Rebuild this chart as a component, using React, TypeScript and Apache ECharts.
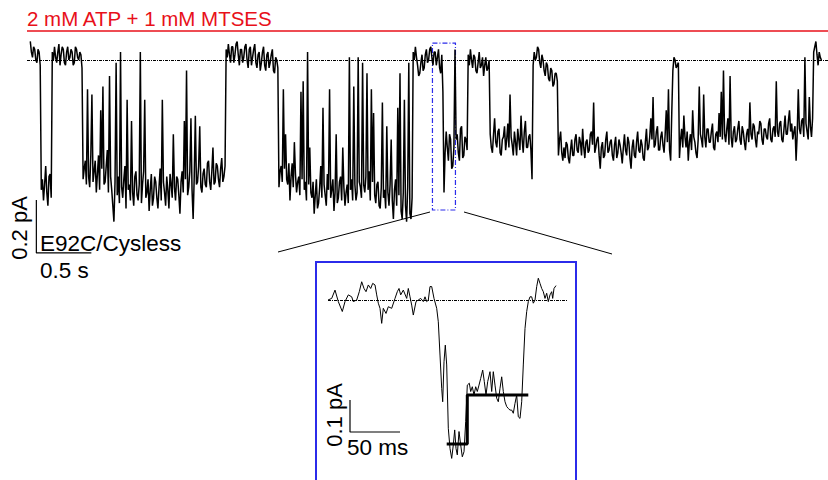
import React, { useEffect, useRef } from "react";
import * as echarts from "echarts";

const TITLE = "2 mM ATP + 1 mM MTSES";
const CONSTRUCT = "E92C/Cysless";
const MAIN_BAR_V = "0.2 pA";
const MAIN_BAR_T = "0.5 s";
const INSET_BAR_V = "0.1 pA";
const INSET_BAR_T = "50 ms";

// main recording, sampled every 0.01 s, current in pA relative to open level
const SAMPLE_S = 0.01;
const mainCurrent = [
  // open, first brief closure
  0.07, 0.03, 0.01, 0.05, 0.04, 0.00, -0.01, 0.04, 0.03, -0.02,
  -0.49, -0.45, -0.53, -0.47, -0.40, -0.50, -0.55, -0.44, -0.43, -0.52,
  // open
  0.03, 0.00, 0.05, 0.01, -0.01, 0.03, 0.06, -0.02, 0.02, 0.05, 0.04, -0.01, -0.02, 0.03,
  0.05, 0.00, 0.01, 0.04, 0.03, -0.02, -0.01, 0.05, 0.04, 0.01, 0.00, 0.03, 0.02, -0.03,
  // closed burst 1
  -0.45, -0.41, -0.38, -0.47, -0.11, -0.44, -0.48, -0.36, -0.13, -0.46, -0.42, -0.38, -0.50, -0.43, -0.36, -0.49, -0.19, -0.41, -0.10, -0.47,
  -0.46, -0.40, -0.34, -0.50, -0.06, -0.44, -0.49, -0.55, -0.61, -0.46, -0.01, -0.51, -0.44, -0.54, 0.03, -0.48, -0.52, -0.45, -0.40, -0.56,
  -0.15, -0.49, -0.47, -0.53, -0.23, -0.50, -0.55, -0.44, -0.42, -0.51, -0.53, -0.47, 0.03, -0.54, -0.47, -0.42, -0.15, -0.52, -0.50, -0.45,
  -0.57, -0.49, -0.43, -0.55, -0.52, -0.44, -0.46, -0.52, -0.56, -0.48, -0.41, -0.53, -0.15, -0.46, -0.50, -0.55, -0.44, -0.49, -0.56, -0.43,
  -0.47, -0.52, -0.28, -0.48, -0.53, -0.44, -0.45, -0.51, -0.58, -0.46, -0.42, -0.50, -0.23, -0.45, -0.04, -0.51, -0.48, -0.42, -0.22, -0.49,
  -0.60, -0.44, -0.21, -0.47, -0.46, -0.40, -0.25, -0.48, -0.50, -0.43, -0.41, -0.47, -0.48, -0.39, -0.38, -0.46, -0.49, -0.42, -0.33, -0.47,
  -0.46, -0.39, -0.40, -0.45, -0.48, -0.41, -0.37, -0.46, -0.44, -0.40,
  // open
  0.04, 0.01, 0.06, 0.02, -0.01, 0.05, 0.05, -0.01, 0.02, 0.06, 0.07, 0.02, -0.02, 0.04, 0.04, -0.01,
  0.01, 0.05, 0.06, 0.00, -0.03, 0.04, 0.05, -0.02, 0.01, 0.04, 0.06, -0.01, -0.03, 0.02, 0.03, -0.04,
  -0.01, 0.03, 0.05, -0.02, -0.04, 0.02, 0.03, -0.03, -0.01, 0.02, 0.04, -0.04, -0.05, 0.01, 0.00, -0.03,
  // closed burst 2
  -0.48, -0.42, -0.40, -0.46, -0.11, -0.41, -0.28, -0.45, -0.47, -0.39, -0.53, -0.44, -0.39, -0.48, -0.31, -0.43, -0.50, -0.46, -0.44, -0.51,
  -0.12, -0.45, -0.08, -0.49, -0.46, -0.53, 0.03, -0.47, -0.33, -0.50, -0.52, -0.46, -0.58, -0.51, -0.45, -0.56, -0.54, -0.48, -0.40, -0.52,
  -0.18, -0.47, -0.51, -0.55, -0.43, -0.49, -0.11, -0.52, -0.49, -0.45, -0.57, -0.50, -0.28, -0.54, -0.52, -0.46, -0.44, -0.53, -0.33, -0.48,
  -0.55, -0.50, -0.47, -0.54, 0.01, -0.49, -0.45, -0.53, -0.10, -0.47, -0.53, -0.50, 0.01, -0.46, -0.48, -0.52, -0.01, -0.47, -0.50, -0.44,
  -0.05, -0.49, -0.42, -0.53, -0.11, -0.46, -0.20, -0.51, -0.54, -0.47, -0.46, -0.55, -0.56, -0.48, -0.16, -0.52, -0.49, -0.56, -0.25, -0.50,
  -0.55, -0.47, -0.30, -0.53, -0.60, -0.49, -0.45, -0.55, -0.18, -0.51, -0.05, -0.57, -0.60, -0.50, -0.15, -0.55, -0.61, -0.48, -0.01, -0.58,
  -0.60, -0.52,
  // open
  0.03, 0.00, 0.05, 0.01, -0.02, -0.06, -0.05, -0.01, 0.02, -0.04, -0.03, 0.02, 0.04, -0.01, 0.00, 0.04,
  0.05, 0.01, -0.02, 0.03, 0.03, -0.02, 0.01, 0.04, -0.03, -0.05, 0.02, -0.12,
  // expanded event
  -0.50, -0.35, -0.27, -0.33, -0.38, -0.28, -0.30, -0.41, -0.40, -0.33, 0.04, -0.30,
  -0.28, -0.35, -0.38, -0.26, -0.25, -0.37, -0.36, -0.29, -0.30, -0.34,
  // open
  0.02, -0.02, 0.04, 0.00, -0.03, 0.02, 0.01, -0.04, -0.05, -0.01, 0.03, -0.03, -0.02, 0.01, -0.06, -0.02, 0.01, -0.04, -0.03, 0.00,
  // sublevel
  -0.28, -0.33, -0.35, -0.28, -0.22, -0.31, -0.33, -0.27, -0.26, -0.35, -0.36, -0.30, -0.29, -0.25, -0.34, -0.30, -0.24, -0.33, -0.13, -0.29,
  -0.32, -0.36, -0.27, -0.31, -0.36, -0.26, -0.30, -0.34, -0.21, -0.30, -0.35, -0.27, -0.23, -0.33, -0.33, -0.29, -0.28, -0.34, -0.45, -0.02,
  // open
  0.03, 0.00, 0.01, 0.05, 0.04, -0.01, -0.03, 0.02, 0.00, -0.04, -0.06, -0.01,
  -0.02, -0.07, -0.08, -0.03, -0.04, -0.10, -0.09, -0.05, -0.05, -0.08,
  // long sublevel
  -0.36, -0.30, -0.27, -0.35, -0.38, -0.33, -0.37, -0.31, -0.32, -0.37, -0.39, -0.34, -0.30, -0.36, -0.36, -0.30, -0.28, -0.34, -0.35, -0.29,
  -0.31, -0.36, -0.26, -0.33, -0.37, -0.31, -0.30, -0.35, -0.34, -0.28, -0.27, -0.32, -0.16, -0.35, -0.33, -0.30, -0.29, -0.36, -0.41, -0.33,
  -0.31, -0.37, -0.36, -0.30, -0.27, -0.35, -0.34, -0.31, -0.30, -0.36, -0.38, -0.32, -0.29, -0.37, -0.35, -0.30, -0.32, -0.35, -0.39, -0.33,
  -0.28, -0.34, -0.36, -0.29, -0.31, -0.37, -0.41, -0.33, -0.30, -0.36, -0.37, -0.31, -0.27, -0.34, -0.35, -0.30, -0.32, -0.37, -0.38, -0.31,
  -0.26, -0.34, -0.33, -0.29,
  -0.22, -0.30, -0.14, -0.33, -0.32, -0.27, -0.25, -0.34, -0.34, -0.29, -0.27, -0.32, -0.35, -0.28, -0.19, -0.31, -0.11, -0.34, -0.38, -0.20,
  -0.04, 0.01, 0.00, -0.03, -0.02, -0.01, -0.37, -0.30, -0.26, -0.33, -0.21, -0.29, -0.33, -0.27, -0.38, -0.31, -0.28, -0.34, -0.19, -0.29,
  -0.31, -0.35, -0.37, -0.30, -0.10, -0.28, -0.30, -0.33, -0.13, -0.29, -0.33, -0.26, -0.26, -0.31, -0.31, -0.27, -0.24, -0.33, -0.34, -0.28,
  -0.27, -0.31, -0.20, -0.29, -0.12, -0.30, -0.04, -0.28, -0.31, -0.26, -0.22, -0.32, -0.06, -0.29, -0.33, -0.27, -0.25, -0.31, -0.30, -0.26,
  -0.23, -0.30, -0.32, -0.25, -0.27, -0.31, -0.34, -0.28, -0.26, -0.31, -0.16, -0.28, -0.30, -0.24, -0.25, -0.30, -0.33, -0.27, -0.28, -0.23,
  -0.24, -0.30, -0.32, -0.26, -0.26, -0.29, -0.30, -0.24, -0.22, -0.30, -0.31, -0.26, -0.25, -0.29, -0.08, -0.27, -0.29, -0.24, -0.23, -0.30,
  -0.31, -0.26, -0.21, -0.28, -0.28, -0.23, -0.19, -0.27, -0.24, -0.30, -0.27, -0.25, -0.38, -0.28, -0.11, -0.26, -0.28, -0.23, -0.22, -0.29,
  0.01, -0.24, -0.27, -0.30, -0.14, -0.25, -0.29, -0.22,
  // open
  0.03, 0.05, 0.07, 0.02, -0.02, 0.03, 0.01, 0.00,
];

// expanded segment (ms, pA)
const insetTime = [
  0, 3.7, 7, 10.3, 14.3, 17, 20.3, 23.7, 25.3, 28.7, 31.3, 33.7, 36, 38, 40.3, 42.7, 44.7, 47, 48.7, 50.3,
  52, 53.7, 55.3, 58, 60.3, 63.7, 67, 69.3, 71, 72.7, 75.3, 78.7, 80.3, 82, 83.7, 85.3, 88, 90.3, 92.7, 95.3,
  97, 98.7, 100.3, 102, 103.7, 106, 108.7, 110.3, 112, 113.7, 114.7, 116, 117.3, 118.7, 120.3, 122, 123.7, 125.3, 126.7, 128,
  129.3, 131, 132.7, 134.3, 136, 137.7, 139.3, 141.3, 142.7, 144.3, 146, 147.7, 149.3, 151, 152.7, 154.7, 156.3, 158, 159.7, 162,
  163.7, 165.3, 167, 168.7, 170.3, 172, 173.7, 175.3, 177, 178.7, 180.3, 182, 183.7, 185.3, 187, 188.7, 190.3, 192, 193.7, 195.3,
  197, 198.7, 200.3, 202, 203.7, 205.3, 207, 208.7, 210.3, 212, 213.7, 215.3, 217, 218.7, 220.3, 222, 223.7, 224.7, 226, 228,
];
const insetCurrent = [
  0, 0.005, 0.031, -0.005, -0.036, -0.005, 0.016, 0.01, -0.005, 0, 0.026, 0.057, 0.036, 0.026, 0.047, 0.036, 0.052, 0.047, 0.016, -0.01,
  -0.026, -0.073, -0.026, -0.042, -0.021, -0.026, 0.005, 0.026, 0.036, 0.016, 0.031, 0.005, 0.036, 0.01, -0.016, -0.047, -0.005, 0, 0.005, -0.005,
  0.01, -0.005, 0, 0.042, 0.042, 0.005, -0.026, -0.068, -0.172, -0.276, -0.318, -0.193, -0.141, -0.203, -0.401, -0.464, -0.495, -0.453, -0.406, -0.464,
  -0.484, -0.411, -0.453, -0.49, -0.474, -0.38, -0.266, -0.26, -0.286, -0.271, -0.297, -0.271, -0.286, -0.266, -0.245, -0.219, -0.255, -0.297, -0.255, -0.224,
  -0.286, -0.224, -0.266, -0.307, -0.318, -0.276, -0.24, -0.286, -0.318, -0.333, -0.339, -0.344, -0.344, -0.354, -0.323, -0.297, -0.365, -0.37, -0.318, -0.203,
  -0.089, -0.036, -0.005, 0.01, 0.01, -0.01, 0, 0.042, 0.068, 0.052, 0.036, 0.026, 0.005, 0.021, -0.005, 0.016, 0.026, 0.005, 0.036, 0.045,
];

// idealised levels of the expanded segment
const fitTime = [118.7, 139.3, 139.3, 200.3];
const fitCurrent = [-0.45, -0.45, -0.297, -0.297];

// expanded window in the main trace
const zoomWindowS = [3.655, 3.864];
const zoomWindowPA = [-0.566, 0.064];

// scale bars
const mainBarOrigin = [0.055, -0.528];
const mainBarSize = [0.5, 0.2];
const insetBarOrigin = [22, -0.3125];
const insetBarSize = [50, 0.1];

const FONT = '"Liberation Sans", Arial, Helvetica, sans-serif';
const RED = "#e8101a";
const BLUE = "#2b2bea";

export default function App() {
  const ref = useRef<HTMLDivElement>(null);

  useEffect(() => {
    if (!ref.current) return;
    const chart = echarts.init(ref.current, null, { renderer: "svg" });

    const mainData = mainCurrent.map((v, i) => [i * SAMPLE_S, v]);
    const insetData = insetTime.map((t, i) => [t, insetCurrent[i]]);
    const fitData = fitTime.map((t, i) => [t, fitCurrent[i]]);
    const mainBar = [
      [mainBarOrigin[0], mainBarOrigin[1]],
      [mainBarOrigin[0], mainBarOrigin[1] - mainBarSize[1]],
      [mainBarOrigin[0] + mainBarSize[0], mainBarOrigin[1] - mainBarSize[1]],
    ];
    const insetBar = [
      [insetBarOrigin[0], insetBarOrigin[1]],
      [insetBarOrigin[0], insetBarOrigin[1] - insetBarSize[1]],
      [insetBarOrigin[0] + insetBarSize[0], insetBarOrigin[1] - insetBarSize[1]],
    ];

    const baseline = (color: string) => ({
      silent: true,
      symbol: "none",
      label: { show: false },
      lineStyle: { color, width: 1, type: [3, 1, 1, 1] },
      data: [{ yAxis: 0 }],
    });

    chart.setOption({
      animation: false,
      backgroundColor: "#fff",
      grid: [
        { left: 27, top: 33.5, width: 801, height: 238.5 },
        { left: 328, top: 268, width: 240, height: 208 },
      ],
      xAxis: [
        { type: "value", gridIndex: 0, min: -0.03, max: 7.25, show: false },
        { type: "value", gridIndex: 1, min: 0, max: 240, show: false },
      ],
      yAxis: [
        { type: "value", gridIndex: 0, min: -0.8, max: 0.1, show: false },
        { type: "value", gridIndex: 1, min: -0.55, max: 0.1, show: false },
      ],
      series: [
        {
          type: "line",
          xAxisIndex: 0,
          yAxisIndex: 0,
          data: mainData,
          showSymbol: false,
          sampling: undefined,
          lineStyle: { color: "#000", width: 1.5 },
          markLine: baseline("#000"),
          markArea: {
            silent: true,
            itemStyle: {
              color: "rgba(0,0,0,0)",
              borderColor: BLUE,
              borderWidth: 1.2,
              borderType: [5, 2, 1, 2],
            },
            data: [
              [
                { xAxis: zoomWindowS[0], yAxis: zoomWindowPA[1] },
                { xAxis: zoomWindowS[1], yAxis: zoomWindowPA[0] },
              ],
            ],
          },
        },
        {
          type: "line",
          xAxisIndex: 0,
          yAxisIndex: 0,
          data: mainBar,
          showSymbol: false,
          lineStyle: { color: "#000", width: 1.2 },
        },
        {
          type: "line",
          xAxisIndex: 1,
          yAxisIndex: 1,
          data: insetData,
          showSymbol: false,
          lineStyle: { color: "#000", width: 1 },
          markLine: baseline("#000"),
        },
        {
          type: "line",
          xAxisIndex: 1,
          yAxisIndex: 1,
          data: fitData,
          showSymbol: false,
          lineStyle: { color: "#000", width: 3 },
        },
        {
          type: "line",
          xAxisIndex: 1,
          yAxisIndex: 1,
          data: insetBar,
          showSymbol: false,
          lineStyle: { color: "#000", width: 1.2 },
        },
      ],
      graphic: [
        {
          type: "text",
          x: 27,
          y: 18,
          style: { text: TITLE, fill: RED, font: `20.5px ${FONT}`, textAlign: "left", textVerticalAlign: "middle" },
        },
        {
          type: "line",
          shape: { x1: 27, y1: 31, x2: 828, y2: 31 },
          style: { stroke: RED, lineWidth: 1.5 },
        },
        {
          type: "text",
          x: 19,
          y: 228,
          rotation: Math.PI / 2,
          style: { text: MAIN_BAR_V, fill: "#000", font: `22px ${FONT}`, textAlign: "center", textVerticalAlign: "middle" },
        },
        {
          type: "text",
          x: 40,
          y: 243,
          style: { text: CONSTRUCT, fill: "#000", font: `22.5px ${FONT}`, textAlign: "left", textVerticalAlign: "middle" },
        },
        {
          type: "text",
          x: 40,
          y: 270,
          style: { text: MAIN_BAR_T, fill: "#000", font: `22.5px ${FONT}`, textAlign: "left", textVerticalAlign: "middle" },
        },
        {
          type: "line",
          shape: { x1: 430, y1: 212, x2: 278, y2: 252 },
          style: { stroke: "#000", lineWidth: 1 },
        },
        {
          type: "line",
          shape: { x1: 464, y1: 212, x2: 612, y2: 254 },
          style: { stroke: "#000", lineWidth: 1 },
        },
        {
          type: "rect",
          shape: { x: 316, y: 262, width: 260, height: 230 },
          style: { fill: "none", stroke: BLUE, lineWidth: 2 },
        },
        {
          type: "text",
          x: 334,
          y: 415,
          rotation: Math.PI / 2,
          style: { text: INSET_BAR_V, fill: "#000", font: `22px ${FONT}`, textAlign: "center", textVerticalAlign: "middle" },
        },
        {
          type: "text",
          x: 347,
          y: 447,
          style: { text: INSET_BAR_T, fill: "#000", font: `22.5px ${FONT}`, textAlign: "left", textVerticalAlign: "middle" },
        },
      ],
    });

    return () => chart.dispose();
  }, []);

  return <div ref={ref} style={{ width: 828, height: 480, position: "absolute", left: 0, top: 0 }} />;
}
